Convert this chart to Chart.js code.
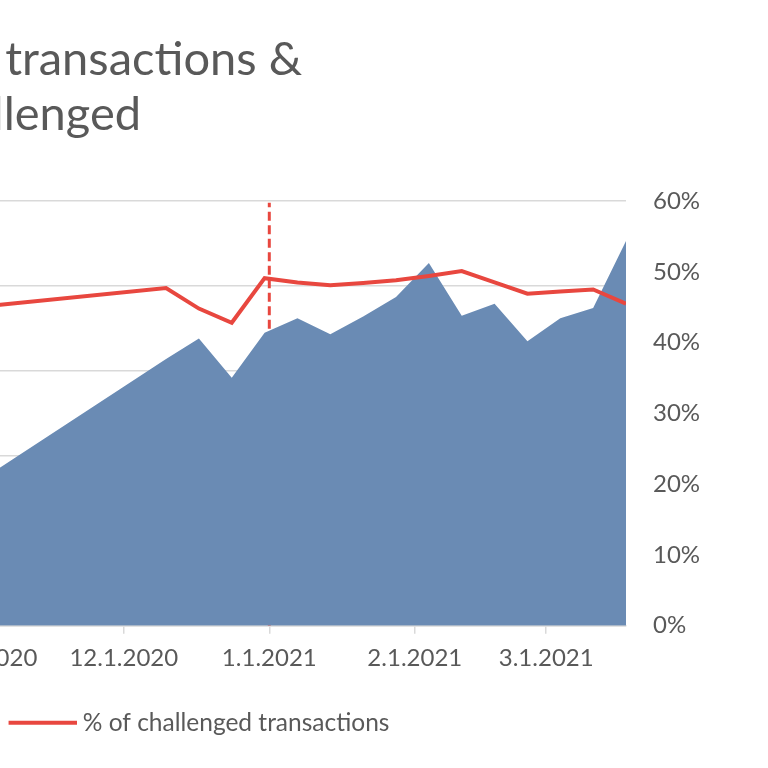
<!DOCTYPE html>
<html>
<head>
<meta charset="utf-8">
<script src="https://cdn.jsdelivr.net/npm/chart.js@4.4.1/dist/chart.umd.min.js"></script>
<style>
  html, body { margin: 0; padding: 0; background: #ffffff; overflow: hidden; width: 768px; height: 768px; }
  #wrap { position: absolute; left: -720px; top: 0; width: 1500px; height: 768px; }
</style>
</head>
<body>
<div id="wrap"><canvas id="c"></canvas></div>
<script>
// ---- data ----
const dates = ['2020-11-01','2020-12-10','2020-12-17','2020-12-24','2020-12-31','2021-01-07','2021-01-14','2021-01-21','2021-01-28','2021-02-04','2021-02-11','2021-02-18','2021-02-25','2021-03-04','2021-03-11','2021-03-18'];
const transactions = [1730, 3140, 3380, 2920, 3450, 3620, 3430, 3640, 3870, 4270, 3650, 3790, 3350, 3620, 3740, 4530];
const challengedPct = [45.1, 47.7, 44.8, 42.8, 49.1, 48.5, 48.1, 48.4, 48.8, 49.4, 50.1, 48.5, 46.9, 47.2, 47.5, 45.5];
const tickDates = ['2020-11-01','2020-12-01','2021-01-01','2021-02-01','2021-03-01'];
const tickLabels = ['11.1.2020','12.1.2020','1.1.2021','2.1.2021','3.1.2021'];
const markerDate = '2021-01-01';
const titleLines = ['\u00A0Number of transactions &', '% challenged\u00A0\u00A0\u00A0\u00A0'];
const seriesNames = ['Number of transactions', '% of challenged transactions'];

const day = s => { const [y,m,d] = s.split('-').map(Number); return (Date.UTC(y,m-1,d) - Date.UTC(2020,11,1)) / 864e5; };

const TEXT = '#595959', GRID = '#d9d9d9', BLUE = '#6a8bb4', RED = '#e8473f';
const FONT = 'Lato';

// legend swatch for the red line series (a short thick line)
const lineSwatch = document.createElement('canvas');
lineSwatch.width = 74; lineSwatch.height = 6;
(() => { const g = lineSwatch.getContext('2d'); g.fillStyle = RED; g.fillRect(6, 1, 68, 4); })();

new Chart(document.getElementById('c'), {
  type: 'line',
  data: {
    datasets: [
      {
        label: seriesNames[1],
        data: dates.map((d, i) => ({ x: day(d), y: challengedPct[i] / 100 })),
        yAxisID: 'y1',
        borderColor: RED, backgroundColor: RED,
        borderWidth: 4, pointRadius: 0, fill: false, tension: 0, order: 0
      },
      {
        label: seriesNames[0],
        data: dates.map((d, i) => ({ x: day(d), y: transactions[i] })),
        yAxisID: 'y',
        borderColor: BLUE, backgroundColor: BLUE,
        borderWidth: 0, pointRadius: 0, fill: 'origin', tension: 0, order: 1
      },
      {
        label: 'marker',
        data: [{ x: day(markerDate), y: 0 }, { x: day(markerDate), y: 4980 }],
        yAxisID: 'y',
        borderColor: RED, borderWidth: 3, borderDash: [9, 4.5],
        pointRadius: 0, fill: false, order: 2
      }
    ]
  },
  options: {
    responsive: true,
    maintainAspectRatio: false,
    animation: false,
    layout: { padding: { top: 0, bottom: 23, left: 0, right: 0 } },
    plugins: {
      tooltip: { enabled: false },
      title: {
        display: true,
        text: titleLines,
        color: TEXT,
        font: { family: FONT, size: 47, weight: 'normal', lineHeight: 55 / 47 },
        padding: { top: 32, bottom: 59 }
      },
      legend: {
        position: 'bottom',
        labels: {
          color: TEXT,
          font: { family: FONT, size: 24.5 },
          usePointStyle: true,
          pointStyleWidth: 62,
          padding: 10,
          filter: item => item.text !== 'marker',
          generateLabels: chart => {
            const items = Chart.defaults.plugins.legend.labels.generateLabels(chart);
            items.forEach(it => { it.pointStyle = it.text === seriesNames[1] ? lineSwatch : 'rect'; });
            return items.sort((a, b) => seriesNames.indexOf(a.text) - seriesNames.indexOf(b.text));
          }
        }
      }
    },
    scales: {
      x: {
        type: 'linear',
        min: day(dates[0]),
        max: day(dates[dates.length - 1]),
        afterBuildTicks: axis => { axis.ticks = tickDates.map(d => ({ value: day(d) })); },
        ticks: {
          color: TEXT, font: { family: FONT, size: 24 }, padding: 10, maxRotation: 0, autoSkip: false,
          callback: (v, i) => tickLabels[i]
        },
        grid: { drawOnChartArea: false, color: GRID, tickLength: 8, lineWidth: 1.5 },
        border: { display: true, color: GRID, width: 1.5 },
        afterFit: axis => { axis.height += 18; }
      },
      y: {
        position: 'left',
        min: 0, max: 5000,
        ticks: { stepSize: 1000, color: TEXT, font: { family: FONT, size: 24 }, padding: 10,
                 callback: v => v.toLocaleString('en-US') },
        grid: { color: GRID, lineWidth: 1.5, drawTicks: false },
        border: { display: false },
        afterFit: axis => { axis.width = 703; }
      },
      y1: {
        position: 'right',
        min: 0, max: 0.6,
        ticks: { stepSize: 0.1, color: TEXT, font: { family: FONT, size: 24 }, padding: 27,
                 callback: v => Math.round(v * 100) + '%' },
        grid: { drawOnChartArea: false, drawTicks: false },
        border: { display: false },
        afterFit: axis => { axis.width = 154; }
      }
    }
  }
});
</script>
</body>
</html>
